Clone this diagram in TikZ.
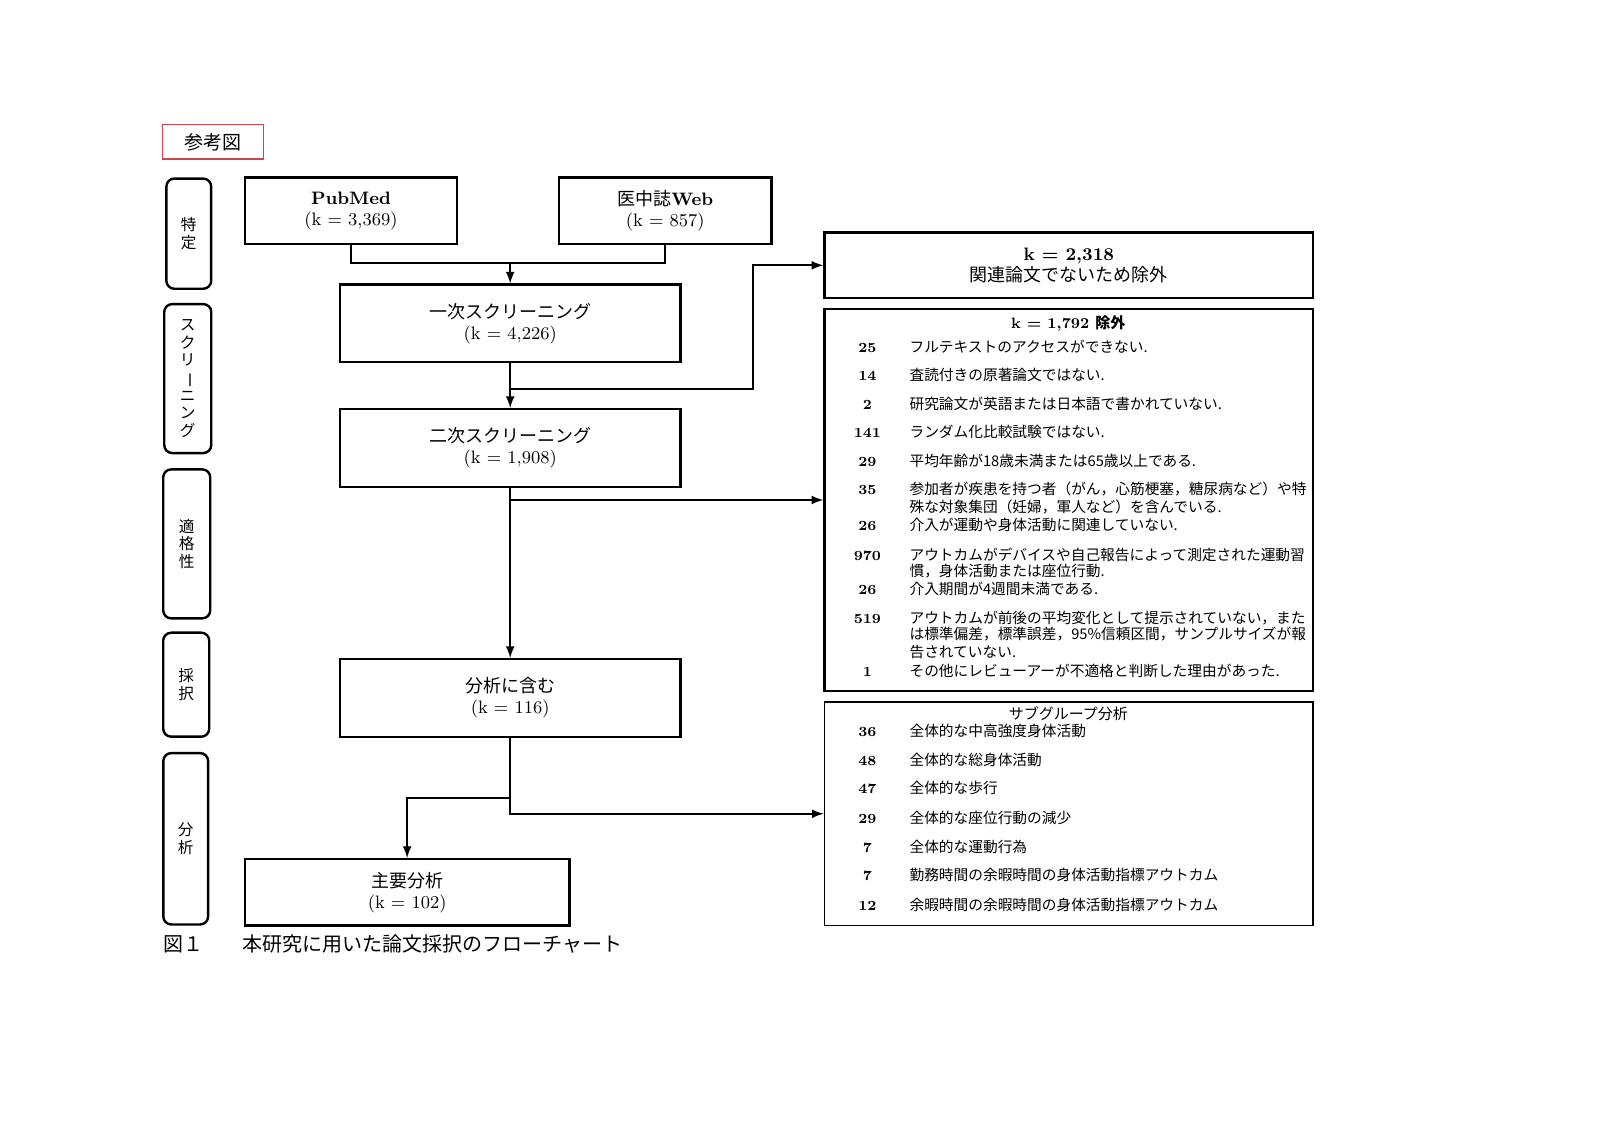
\documentclass[tikz,border=0pt]{standalone}
\usepackage{fontspec}
\newfontfamily\cjk{Noto Sans CJK JP}
\definecolor{refred}{RGB}{204,68,75}

\begin{document}
\begin{tikzpicture}[x=0.5102pt,y=-0.5102pt,>=latex,
    box/.style={draw,line width=1.2pt,align=center,inner sep=2pt,font=\fontsize{9}{10.5}\selectfont},
    side/.style={draw,line width=1.2pt,rounded corners=4pt,align=center,inner sep=1pt,font=\cjk\fontsize{7.8}{8.8}\selectfont},
    num/.style={anchor=base,font=\bfseries\fontsize{7}{8}\selectfont},
    item/.style={anchor=base west,inner sep=0pt,font=\cjk\fontsize{7.35}{8}\selectfont},
    link/.style={line width=1pt}]
    \useasboundingbox (0pt,0pt) rectangle (800pt,-565.5pt);
    \node[draw=refred,line width=0.7pt,minimum width=50.5pt,minimum height=17.3pt,font=\cjk\fontsize{9.5}{11}\selectfont] (sanko) at (208.5,139) {参考図}; % label
    % stages
    \node[side,minimum width=22.4pt,minimum height=55.1pt] (stage1) at (185,229) {特\\定};
    \node[side,minimum width=23.5pt,minimum height=74.5pt] (stage2) at (184,371) {ス\\ク\\リ\\\rotatebox[origin=c]{-90}{ー}\\ニ\\ン\\グ};
    \node[side,minimum width=23.5pt,minimum height=74.5pt] (stage3) at (183,533) {適\\格\\性};
    \node[side,minimum width=23pt,minimum height=52pt] (stage4) at (182.5,671) {採\\択};
    \node[side,minimum width=22.4pt,minimum height=85.7pt] (stage5) at (182,822) {分\\析};
    % flow boxes
    \node[box,minimum width=106.1pt,minimum height=33.2pt] (pubmed) at (344,206.5) {\textbf{PubMed}\\(k = 3,369)};
    \node[box,minimum width=106.1pt,minimum height=33.2pt] (ichushi) at (652,206.5) {{\cjk 医中誌}\textbf{Web}\\(k = 857)};
    \node[box,minimum width=170.4pt,minimum height=38.8pt] (first) at (500,317) {{\cjk 一次スクリーニング}\\(k = 4,226)};
    \node[box,minimum width=170.4pt,minimum height=38.8pt] (second) at (500,439) {{\cjk 二次スクリーニング}\\(k = 1,908)};
    \node[box,minimum width=170.4pt,minimum height=38.8pt] (include) at (500,684) {{\cjk 分析に含む}\\(k = 116)};
    \node[box,minimum width=162.2pt,minimum height=33.2pt] (mainan) at (399,874.5) {{\cjk 主要分析}\\(k = 102)};
    % exclusion boxes
    \node[box,minimum width=244.4pt,minimum height=32.7pt] (excl1) at (1047.5,260) {\textbf{k = 2,318}\\{\cjk 関連論文でないため除外}};
    \node[draw,line width=1.2pt,minimum width=244.4pt,minimum height=190.8pt] (excl2) at (1047.5,490) {};
    \node[draw,line width=0.8pt,minimum width=244.4pt,minimum height=111.7pt] (subgrp) at (1047.5,797.5) {};
    \node[font=\bfseries\fontsize{7.5}{9}\selectfont] (extitle) at (1047,317) {k = 1,792 {\cjk 除外}};
    \foreach \ry/\rn/\rt [count=\i] in {340/25/{フルテキストのアクセスができない.},
        368/14/{査読付きの原著論文ではない.},
        396/2/{研究論文が英語または日本語で書かれていない.},
        424/141/{ランダム化比較試験ではない.},
        452/29/{平均年齢が18歳未満または65歳以上である.},
        480/35/{参加者が疾患を持つ者（がん，心筋梗塞，糖尿病など）や特},
        497/{}/{殊な対象集団（妊婦，軍人など）を含んでいる.},
        515/26/{介入が運動や身体活動に関連していない.},
        544/970/{アウトカムがデバイスや自己報告によって測定された運動習},
        560/{}/{慣，身体活動または座位行動.},
        578/26/{介入期間が4週間未満である.},
        606/519/{アウトカムが前後の平均変化として提示されていない，また},
        622/{}/{は標準偏差，標準誤差，95\%信頼区間，サンプルサイズが報},
        639/{}/{告されていない.},
        658/1/{その他にレビューアーが不適格と判断した理由があった.}}
      {\node[num] (exn\i) at (850,\ry+5) {\rn};
       \node[item] (ext\i) at (891,\ry+5) {\rt};}
    \node[font=\cjk\fontsize{7.5}{9}\selectfont] (subtitle) at (1047,699) {サブグループ分析};
    \foreach \ry/\rn/\rt [count=\i] in {717/36/{全体的な中高強度身体活動},
        745/48/{全体的な総身体活動},
        773/47/{全体的な歩行},
        802/29/{全体的な座位行動の減少},
        830/7/{全体的な運動行為},
        858/7/{勤務時間の余暇時間の身体活動指標アウトカム},
        887/12/{余暇時間の余暇時間の身体活動指標アウトカム}}
      {\node[num] (sgn\i) at (850,\ry+5) {\rn};
       \node[item] (sgt\i) at (891,\ry+5) {\rt};}
    % connectors
    \coordinate (join) at (500,258);
    \coordinate (split1) at (500,381);
    \coordinate (turn1) at (738,381);
    \coordinate (split2) at (500,490);
    \coordinate (split3) at (500,782);
    \draw[link] (pubmed.south) |- (join) -| (ichushi.south); % merge
    \draw[link,->] (join) -- (first.north);
    \draw[link,->] (first.south) -- (second.north);
    \draw[link,->] (split1) -- (turn1) |- (excl1.west); % not relevant
    \draw[link,->] (split2) -- (excl2.west); % excluded
    \draw[link,->] (second.south) -- (include.north);
    \draw[link,->] (include.south) |- (subgrp.west); % subgroups
    \draw[link,->] (split3) -| (mainan.north); % main analysis
    % caption
    \node[anchor=base west,inner sep=0pt,font=\cjk\fontsize{10}{12}\selectfont] (fignum) at (160,932) {図１};
    \node[anchor=base west,inner sep=0pt,font=\cjk\fontsize{10}{12}\selectfont] (figcap) at (237,932) {本研究に用いた論文採択のフローチャート};
\end{tikzpicture}
\end{document}
